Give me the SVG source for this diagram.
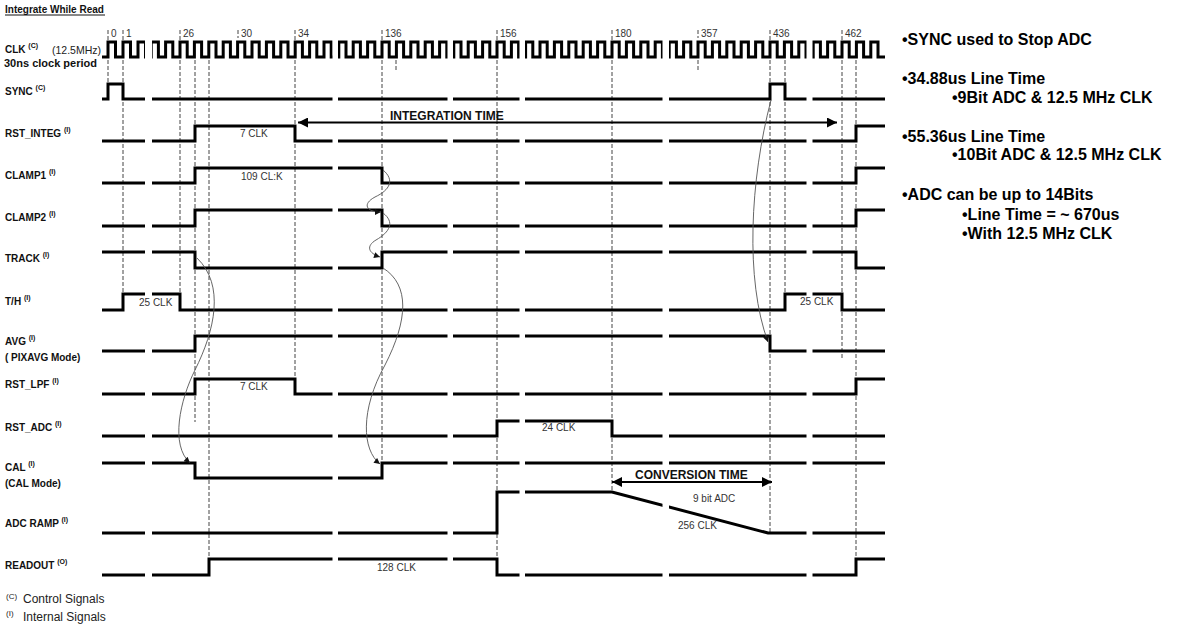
<svg xmlns="http://www.w3.org/2000/svg" width="1180" height="626" viewBox="0 0 1180 626">
<style>
text{font-family:"Liberation Sans",Arial,sans-serif;}
.lbl{font-size:10px;font-weight:bold;fill:#111;}
.sup{font-size:7px;}
.num{font-size:10px;fill:#333;}
.ann{font-size:10px;fill:#333;}
.big{font-size:12px;font-weight:bold;fill:#111;}
.side{font-size:16px;font-weight:bold;fill:#000;}
.foot{font-size:12px;fill:#222;}
.w{fill:none;stroke:#000;stroke-width:3;stroke-linejoin:miter;stroke-linecap:butt;}
.g{fill:none;stroke:#444;stroke-width:1;stroke-dasharray:4 2;}
.cv{fill:none;stroke:#555;stroke-width:0.9;}
.arr{fill:none;stroke:#000;stroke-width:2;}
</style>
<defs>
<mask id="brk" maskUnits="userSpaceOnUse" x="0" y="0" width="1180" height="626">
<rect x="0" y="0" width="1180" height="626" fill="#fff"/>
<rect x="145" y="35" width="7" height="560" fill="#000"/>
<rect x="332.5" y="35" width="5.5" height="560" fill="#000"/>
<rect x="447.5" y="35" width="5.5" height="560" fill="#000"/>
<rect x="519.5" y="35" width="5.5" height="560" fill="#000"/>
<rect x="662.5" y="35" width="6.5" height="560" fill="#000"/>
<rect x="806.5" y="35" width="6" height="560" fill="#000"/>
</mask>
<marker id="ah" viewBox="0 0 10 10" refX="10" refY="5" markerWidth="7" markerHeight="6" orient="auto" markerUnits="userSpaceOnUse"><path d="M0,0 L10,5 L0,10 z" fill="#111"/></marker>
<marker id="bh" viewBox="0 0 10 10" refX="10" refY="5" markerWidth="12" markerHeight="10" orient="auto-start-reverse" markerUnits="userSpaceOnUse"><path d="M0,0 L10,5 L0,10 z" fill="#000"/></marker>
</defs>

<g id="title">
<text x="5" y="13" class="lbl">Integrate While Read</text>
<line x1="5" y1="15" x2="105" y2="15" stroke="#111" stroke-width="1"/>
</g>

<g id="guides">
<line class="g" x1="108" y1="30" x2="108" y2="84"/>
<line class="g" x1="123" y1="30" x2="123" y2="294"/>
<line class="g" x1="180" y1="30" x2="180" y2="294"/>
<line class="g" x1="195" y1="60" x2="195" y2="422"/>
<line class="g" x1="209" y1="60" x2="209" y2="559"/>
<line class="g" x1="238" y1="30" x2="238" y2="38"/>
<line class="g" x1="295" y1="30" x2="295" y2="379"/>
<line class="g" x1="382" y1="30" x2="382" y2="463"/>
<line class="g" x1="396" y1="60" x2="396" y2="70"/>
<line class="g" x1="497" y1="30" x2="497" y2="559"/>
<line class="g" x1="612" y1="30" x2="612" y2="492"/>
<line class="g" x1="698" y1="30" x2="698" y2="38"/>
<line class="g" x1="698" y1="60" x2="698" y2="70"/>
<line class="g" x1="770" y1="30" x2="770" y2="533"/>
<line class="g" x1="785" y1="60" x2="785" y2="294"/>
<line class="g" x1="842" y1="30" x2="842" y2="360"/>
<line class="g" x1="856" y1="60" x2="856" y2="559"/>
</g>

<g id="clock-numbers">
<text class="num" x="111" y="37">0</text>
<text class="num" x="126" y="37">1</text>
<text class="num" x="183" y="37">26</text>
<text class="num" x="241" y="37">30</text>
<text class="num" x="298" y="37">34</text>
<text class="num" x="385" y="37">136</text>
<text class="num" x="500" y="37">156</text>
<text class="num" x="615" y="37">180</text>
<text class="num" x="701" y="37">357</text>
<text class="num" x="773" y="37">436</text>
<text class="num" x="845" y="37">462</text>
</g>

<g id="labels">
<text class="lbl" x="5" y="53">CLK <tspan class="sup" dy="-5">(C)</tspan></text>
<text x="52" y="54" style="font-size:10.5px;fill:#222">(12.5MHz)</text>
<text class="lbl" x="4" y="67" style="font-size:11px">30ns clock period</text>
<text class="lbl" x="5" y="95">SYNC <tspan class="sup" dy="-5">(C)</tspan></text>
<text class="lbl" x="5" y="137">RST_INTEG <tspan class="sup" dy="-5">(I)</tspan></text>
<text class="lbl" x="5" y="179">CLAMP1 <tspan class="sup" dy="-5">(I)</tspan></text>
<text class="lbl" x="5" y="221">CLAMP2 <tspan class="sup" dy="-5">(I)</tspan></text>
<text class="lbl" x="5" y="262">TRACK <tspan class="sup" dy="-5">(I)</tspan></text>
<text class="lbl" x="5" y="305">T/H <tspan class="sup" dy="-5">(I)</tspan></text>
<text class="lbl" x="5" y="345">AVG <tspan class="sup" dy="-5">(I)</tspan></text>
<text class="lbl" x="5" y="361">( PIXAVG Mode)</text>
<text class="lbl" x="5" y="388">RST_LPF <tspan class="sup" dy="-5">(I)</tspan></text>
<text class="lbl" x="5" y="431">RST_ADC <tspan class="sup" dy="-5">(I)</tspan></text>
<text class="lbl" x="5" y="471">CAL <tspan class="sup" dy="-5">(I)</tspan></text>
<text class="lbl" x="5" y="487">(CAL Mode)</text>
<text class="lbl" x="5" y="527">ADC RAMP <tspan class="sup" dy="-5">(I)</tspan></text>
<text class="lbl" x="5" y="569">READOUT <tspan class="sup" dy="-5">(O)</tspan></text>
</g>

<g id="waveforms" mask="url(#brk)">
<g id="clk"><path class="w" d="M102,57 H108 V42 H115.5 V57 H123 V42 H130.5 V57 H138 V42 H145.5 V57 H151.2 V42 H158.4 V57 H165.6 V42 H172.8 V57 H180 V42 H187.2 V57 H194.4 V42 H201.6 V57 H208.8 V42 H216 V57 H223.2 V42 H230.4 V57 H237.6 V42 H244.8 V57 H252 V42 H259.2 V57 H266.4 V42 H273.6 V57 H280.8 V42 H288 V57 H295.2 V42 H302.4 V57 H309.6 V42 H316.8 V57 H324 V42 H331.2 V57 H338.8 V42 H346 V57 H353.2 V42 H360.4 V57 H367.6 V42 H374.8 V57 H382 V42 H389.2 V57 H396.4 V42 H403.6 V57 H410.8 V42 H418 V57 H425.2 V42 H432.4 V57 H439.6 V42 H446.8 V57 H453.8 V42 H461 V57 H468.2 V42 H475.4 V57 H482.6 V42 H489.8 V57 H497 V42 H504.2 V57 H511.4 V42 H518.6 V57 H525.6 V42 H532.8 V57 H540 V42 H547.2 V57 H554.4 V42 H561.6 V57 H568.8 V42 H576 V57 H583.2 V42 H590.4 V57 H597.6 V42 H604.8 V57 H612 V42 H619.2 V57 H626.4 V42 H633.6 V57 H640.8 V42 H648 V57 H655.2 V42 H662.4 V57 H669.2 V42 H676.4 V57 H683.6 V42 H690.8 V57 H698 V42 H705.2 V57 H712.4 V42 H719.6 V57 H726.8 V42 H734 V57 H741.2 V42 H748.4 V57 H755.6 V42 H762.8 V57 H770 V42 H777.2 V57 H784.4 V42 H791.6 V57 H798.8 V42 H806 V57 H813.2 V42 H820.4 V57 H827.6 V42 H834.8 V57 H842 V42 H849.2 V57 H856.4 V42 H863.6 V57 H870.8 V42 H878 V57 H885"/></g>
<g id="sync"><path class="w" d="M102,99 H108 V84 H123 V99 H770 V84 H785 V99 H885"/></g>
<g id="rst_integ"><path class="w" d="M102,141 H195 V126 H295 V141 H856 V126 H885"/></g>
<g id="clamp1"><path class="w" d="M102,183 H195 V168 H382 V183 H856 V168 H885"/></g>
<g id="clamp2"><path class="w" d="M102,226 H195 V210 H382 V226 H856 V210 H885"/></g>
<g id="track"><path class="w" d="M102,252 H195 V268 H382 V252 H856 V268 H885"/></g>
<g id="th"><path class="w" d="M102,310 H123 V294 H180 V310 H785 V294 H842 V310 H885"/></g>
<g id="avg"><path class="w" d="M102,351 H195 V336 H770 V351 H885"/></g>
<g id="rst_lpf"><path class="w" d="M102,394 H195 V379 H295 V394 H856 V379 H885"/></g>
<g id="rst_adc"><path class="w" d="M102,436 H497 V421 H612 V436 H885"/></g>
<g id="cal"><path class="w" d="M102,463 H195 V478 H382 V463 H885"/></g>
<g id="adc_ramp"><path class="w" d="M102,533 H497 V492 H612 L768,533 H885"/></g>
<g id="readout"><path class="w" d="M102,575 H209 V559 H497 V575 H856 V559 H885"/></g>
</g>

<g id="annotations">
<text class="ann" x="240" y="137">7 CLK</text>
<text class="ann" x="241" y="180">109 CL:K</text>
<text class="ann" x="139" y="306">25 CLK</text>
<text class="ann" x="800" y="305">25 CLK</text>
<text class="ann" x="240" y="390">7 CLK</text>
<text class="ann" x="542" y="431">24 CLK</text>
<text class="ann" x="377" y="571">128 CLK</text>
<text class="ann" x="693" y="502">9 bit ADC</text>
<text class="ann" x="678" y="529">256 CLK</text>
<text class="big" x="390" y="120">INTEGRATION TIME</text>
<text class="big" x="635" y="479">CONVERSION TIME</text>
</g>

<g id="connectors">
<path class="arr" d="M298,122.5 H837" marker-start="url(#bh)" marker-end="url(#bh)"/>
<path class="arr" d="M612,482 H772" marker-start="url(#bh)" marker-end="url(#bh)"/>
<path class="cv" d="M197,258 C225,285 215,330 195,370 C180,400 170,445 190,463" marker-end="url(#ah)"/>
<path class="cv" d="M383,170 C395,180 390,190 375,197 C362,204 366,212 381,212" marker-end="url(#ah)"/>
<path class="cv" d="M383,213 C395,222 390,232 376,240 C366,246 368,253 380,257" marker-end="url(#ah)"/>
<path class="cv" d="M383,268 C410,285 408,320 385,365 C360,410 362,450 380,464" marker-end="url(#ah)"/>
<path class="cv" d="M771,100 C750,180 745,280 768,342" marker-end="url(#ah)"/>
</g>

<g id="notes">
<text class="side" x="902" y="45">•SYNC used to Stop ADC</text>
<text class="side" x="902" y="84">•34.88us Line Time</text>
<text class="side" x="952" y="103">•9Bit ADC &amp; 12.5 MHz CLK</text>
<text class="side" x="902" y="142">•55.36us Line Time</text>
<text class="side" x="952" y="160">•10Bit ADC &amp; 12.5 MHz CLK</text>
<text class="side" x="902" y="200">•ADC can be up to 14Bits</text>
<text class="side" x="962" y="220">•Line Time = ~ 670us</text>
<text class="side" x="962" y="239">•With 12.5 MHz CLK</text>
</g>

<g id="footnotes">
<text x="6" y="599" style="font-size:8px;fill:#222">(C)</text>
<text class="foot" x="23" y="603">Control Signals</text>
<text x="6" y="616" style="font-size:8px;fill:#222">(I)</text>
<text class="foot" x="23" y="621">Internal Signals</text>
</g>
</svg>
